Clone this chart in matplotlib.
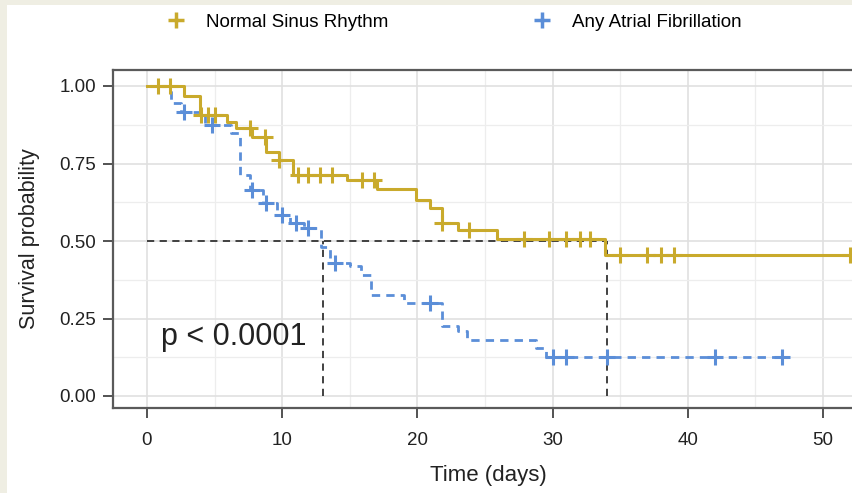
import numpy as np
import matplotlib
matplotlib.use("Agg")
import matplotlib.pyplot as plt
from matplotlib.lines import Line2D
from matplotlib.patches import Rectangle

# Kaplan-Meier step data
nsr_t = [0, 2.7, 3.9, 5.9, 6.6, 7.8, 8.8, 9.8, 10.8, 14.8, 17.0, 19.9, 20.9, 21.8, 23.0, 25.9, 33.9, 52.6]
nsr_s = [1.0, 0.968, 0.905, 0.884, 0.865, 0.835, 0.787, 0.761, 0.713, 0.697, 0.668, 0.632, 0.606, 0.558, 0.535, 0.505, 0.455, 0.455]
nsr_cens = [0.8, 1.7, 4.0, 4.5, 5.0, 7.6, 8.7, 9.8, 11.2, 11.9, 12.8, 13.7, 15.9, 16.8, 21.8, 23.8,
            27.9, 29.7, 31.0, 32.0, 32.8, 35.0, 37.0, 38.0, 39.0, 52.0]

af_t = [0, 1.8, 2.5, 4.3, 6.2, 6.9, 7.6, 8.6, 9.6, 10.6, 11.6, 12.9, 13.5, 15.0, 15.8, 16.6, 19.0,
        21.8, 23.0, 23.7, 28.8, 29.5, 47.0]
af_s = [1.0, 0.945, 0.916, 0.874, 0.848, 0.713, 0.665, 0.622, 0.584, 0.558, 0.542, 0.48, 0.43,
        0.42, 0.39, 0.326, 0.30, 0.225, 0.21, 0.18, 0.155, 0.125, 0.125]
af_cens = [2.7, 4.8, 7.8, 8.8, 10.0, 11.0, 11.9, 13.9, 20.9, 30.0, 31.0, 34.0, 42.0, 47.0]

median_nsr = 34.0
median_af = 13.0
labels = ["Normal Sinus Rhythm", "Any Atrial Fibrillation"]
gold = "#c9aa2c"
blue = "#5b8ed8"


def surv_at(t, s, x):
    idx = np.searchsorted(t, x, side="right") - 1
    return np.array(s)[idx]


plt.rcParams['font.family'] = ['Liberation Sans', 'DejaVu Sans']

fig = plt.figure(figsize=(8.53, 4.93), dpi=100)
fig.patch.set_facecolor("#efeee3")
fig.patches.append(Rectangle((7 / 853, 0), 1, 488 / 493, transform=fig.transFigure,
                             facecolor="white", edgecolor="none", zorder=-10))

ax = fig.add_axes([113 / 853, 85 / 493, 750 / 853, 338 / 493])
px_day = 13.52

ax.set_xticks(np.arange(0, 51, 10))
ax.set_xticks(np.arange(5, 46, 10), minor=True)
ax.set_yticks([0, 0.25, 0.5, 0.75, 1.0])
ax.set_yticks([0.125, 0.375, 0.625, 0.875], minor=True)
ax.set_yticklabels(["0.00", "0.25", "0.50", "0.75", "1.00"])
ax.set_xlim(-34 / px_day, (863 - 147) / px_day)
ax.set_ylim(-12 / 310, 326 / 310)
ax.grid(which="major", color="#e0e0e0", lw=1.2)
ax.grid(which="minor", color="#ededed", lw=0.9)
ax.set_axisbelow(True)
for sp in ax.spines.values():
    sp.set_color("#5a5a5a")
    sp.set_linewidth(1.6)
ax.tick_params(which="major", length=7, width=1.3, color="#444444", labelsize=13.5,
               labelcolor="#222222")
ax.tick_params(which="minor", length=0)
ax.tick_params(axis="x", pad=10)
ax.tick_params(axis="y", pad=5)

# median lines
ax.plot([0, median_nsr], [0.5, 0.5], ls=(0, (4, 3)), color="#333333", lw=1.3, zorder=2)
ax.plot([median_af, median_af], [0, 0.5], ls=(0, (4, 3)), color="#333333", lw=1.3, zorder=2)
ax.plot([median_nsr, median_nsr], [0, 0.5], ls=(0, (4, 3)), color="#333333", lw=1.3, zorder=2)

ax.step(af_t, af_s, where="post", color=blue, lw=2, ls=(0, (3, 2.2)), zorder=3)
ax.plot(af_cens, surv_at(af_t, af_s, af_cens), "+", color=blue, ms=12, mew=2.2, zorder=3)
ax.step(nsr_t, nsr_s, where="post", color=gold, lw=2.2, zorder=4)
ax.plot(nsr_cens, surv_at(nsr_t, nsr_s, nsr_cens), "+", color=gold, ms=12, mew=2.2, zorder=4)

ax.text(1.0, 0.19, "p < 0.0001", fontsize=22, color="#222222", va="center", ha="left")

ax.set_ylabel("Survival probability", fontsize=15.5, color="#222222", labelpad=14)
ax.set_xlabel("Time (days)", fontsize=16, color="#222222", labelpad=12)

handles = [Line2D([], [], marker="+", ls="none", color=gold, ms=11, mew=2.5),
           Line2D([], [], marker="+", ls="none", color=blue, ms=11, mew=2.5)]
fig.legend(handles, labels, loc="center", bbox_to_anchor=(0.527, 0.955), ncol=2,
           frameon=False, fontsize=13.5, columnspacing=7.2, handletextpad=0.6)

fig.savefig("out.png", dpi=100, facecolor=fig.get_facecolor())
